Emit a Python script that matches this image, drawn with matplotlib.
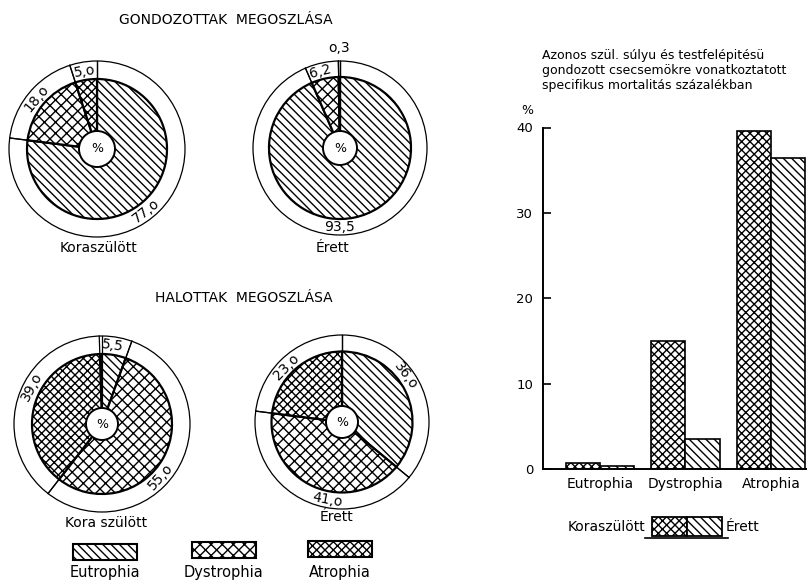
import numpy as np
import matplotlib
matplotlib.use('Agg')
import matplotlib.pyplot as plt
from matplotlib.patches import Circle, Rectangle

plt.rcParams['font.family'] = ['DejaVu Sans']
plt.rcParams['hatch.linewidth'] = 1.0
plt.rcParams['hatch.color'] = 'black'

# categories (same order in every pie and in the bar chart)
categories = ['Eutrophia', 'Dystrophia', 'Atrophia']

# pie data, percent
gond_korasz = [77.0, 18.0, 5.0]
gond_erett = [93.5, 6.2, 0.3]
halott_korasz = [5.5, 55.0, 39.0]
halott_erett = [36.0, 41.0, 23.0]

# bar data: specific mortality, percent
mort_korasz = [0.7, 15.0, 39.6]
mort_erett = [0.4, 3.5, 36.4]

hatches = ['\\\\\\\\', 'xxx', 'xxxx']   # Eutrophia, Dystrophia, Atrophia
H = 581

fig = plt.figure(figsize=(8.09, 5.81), dpi=100)
ax = fig.add_axes([0, 0, 1, 1])


def fmt(v):
    # old typewriter style: comma decimal, letter o for zero
    return f"{v:.1f}".replace('.', ',').replace('0', 'o')


def draw_pie(vals, cx, cy, r_in, r_out, r_hole, shifts):
    y = H - cy
    wedges, _ = ax.pie([v / 100 for v in vals], normalize=False, startangle=90,
                       counterclock=False, radius=r_in, center=(cx, y), frame=True,
                       hatch=hatches,
                       wedgeprops=dict(facecolor='white', edgecolor='black', linewidth=1.6))
    ax.add_patch(Circle((cx, y), r_out, facecolor='none', edgecolor='black', lw=0.9))
    for w in wedges:
        for t in (w.theta1, w.theta2):
            c, s = np.cos(np.radians(t)), np.sin(np.radians(t))
            ax.plot([cx + r_in * c, cx + r_out * c], [y + r_in * s, y + r_out * s],
                    color='black', lw=0.9)
    for w, v, sh in zip(wedges, vals, shifts):
        a = (w.theta1 + w.theta2) / 2 + sh
        a = (a + 180) % 360 - 180
        if v < 1:
            r, rot = r_out + 13, 0
        else:
            r = (r_in + r_out) / 2
            rot = a - 90 if a > 0 else a + 90
        ax.text(cx + r * np.cos(np.radians(a)), y + r * np.sin(np.radians(a)), fmt(v),
                rotation=rot, rotation_mode='anchor', ha='center', va='center', fontsize=10)
    ax.add_patch(Circle((cx, y), r_hole, facecolor='white', edgecolor='black', lw=1.4, zorder=5))
    ax.text(cx, y, '%', ha='center', va='center', fontsize=9, zorder=6)


draw_pie(gond_korasz, 97, 149, 70, 88, 18, [-3, 0, 0])
draw_pie(gond_erett, 340, 148, 71, 87, 17, [-12, 2, 0])
draw_pie(halott_korasz, 102, 424, 70, 88, 16, [2, -13, -10])
draw_pie(halott_erett, 342, 422, 70.5, 87, 16, [11, 13, 4])

ax.set_xlim(0, 809)
ax.set_ylim(0, H)
ax.set_aspect('equal')
ax.axis('off')

ax.text(333, H - 20, 'GONDOZOTTAK  MEGOSZLÁSA', ha='right', va='center', fontsize=10)
ax.text(333, H - 298, 'HALOTTAK  MEGOSZLÁSA', ha='right', va='center', fontsize=10)
ax.text(99, H - 248, 'Koraszülött', ha='center', va='center', fontsize=10)
ax.text(333, H - 248, 'Érett', ha='center', va='center', fontsize=10)
ax.text(106, H - 523, 'Kora szülött', ha='center', va='center', fontsize=10)
ax.text(337, H - 517, 'Érett', ha='center', va='center', fontsize=10)

# legend of the pies
leg_x = [73, 192, 308]
leg_y = [544, 542, 541]
for name, hh, lx, ly in zip(categories, hatches, leg_x, leg_y):
    ax.add_patch(Rectangle((lx, H - ly - 16), 64, 16, facecolor='white',
                           edgecolor='black', lw=1.5, hatch=hh))
    ax.text(lx + 32, H - 573, name, ha='center', va='center', fontsize=10.5)

# bar chart
title_lines = ['Azonos szül. súlyu és testfelépitésü',
               'gondozott csecsemökre vonatkoztatott',
               'specifikus mortalitás százalékban']
for i, line in enumerate(title_lines):
    ax.text(542, H - 56 - 14.5 * i, line, ha='left', va='center', fontsize=9)
ax.text(527, H - 110, '%', ha='center', va='center', fontsize=9)

bx = fig.add_axes([543 / 809, 1 - 469 / H, (806 - 543) / 809, (469 - 127.5) / H])
xs = np.arange(len(categories))
w = 0.4
bx.bar(xs - w / 2, mort_korasz, w, facecolor='white', edgecolor='black', lw=1.2, hatch=hatches[2])
bx.bar(xs + w / 2, mort_erett, w, facecolor='white', edgecolor='black', lw=1.2, hatch=hatches[0])
bx.set_xlim(-0.667, 2.41)
bx.set_ylim(0, 40)
bx.spines['top'].set_visible(False)
bx.spines['right'].set_visible(False)
bx.spines['left'].set_linewidth(1.4)
bx.spines['bottom'].set_linewidth(1.4)
bx.set_yticks([0, 10, 20, 30, 40])
bx.tick_params(axis='y', direction='in', length=6, width=1.2, labelsize=9.5, pad=7)
bx.set_xticks(xs, categories)
bx.tick_params(axis='x', length=0, pad=6, labelsize=10)

# bar legend
ax.text(645, H - 527, 'Koraszülött', ha='right', va='center', fontsize=10)
ax.add_patch(Rectangle((652, H - 536), 35, 19, facecolor='white', edgecolor='black', lw=1.3, hatch=hatches[2]))
ax.add_patch(Rectangle((687, H - 536), 35, 19, facecolor='white', edgecolor='black', lw=1.3, hatch=hatches[0]))
ax.plot([645, 728], [H - 538, H - 538], color='black', lw=1.2)
ax.text(726, H - 527, 'Érett', ha='left', va='center', fontsize=10)

fig.savefig('out.png', dpi=100)
